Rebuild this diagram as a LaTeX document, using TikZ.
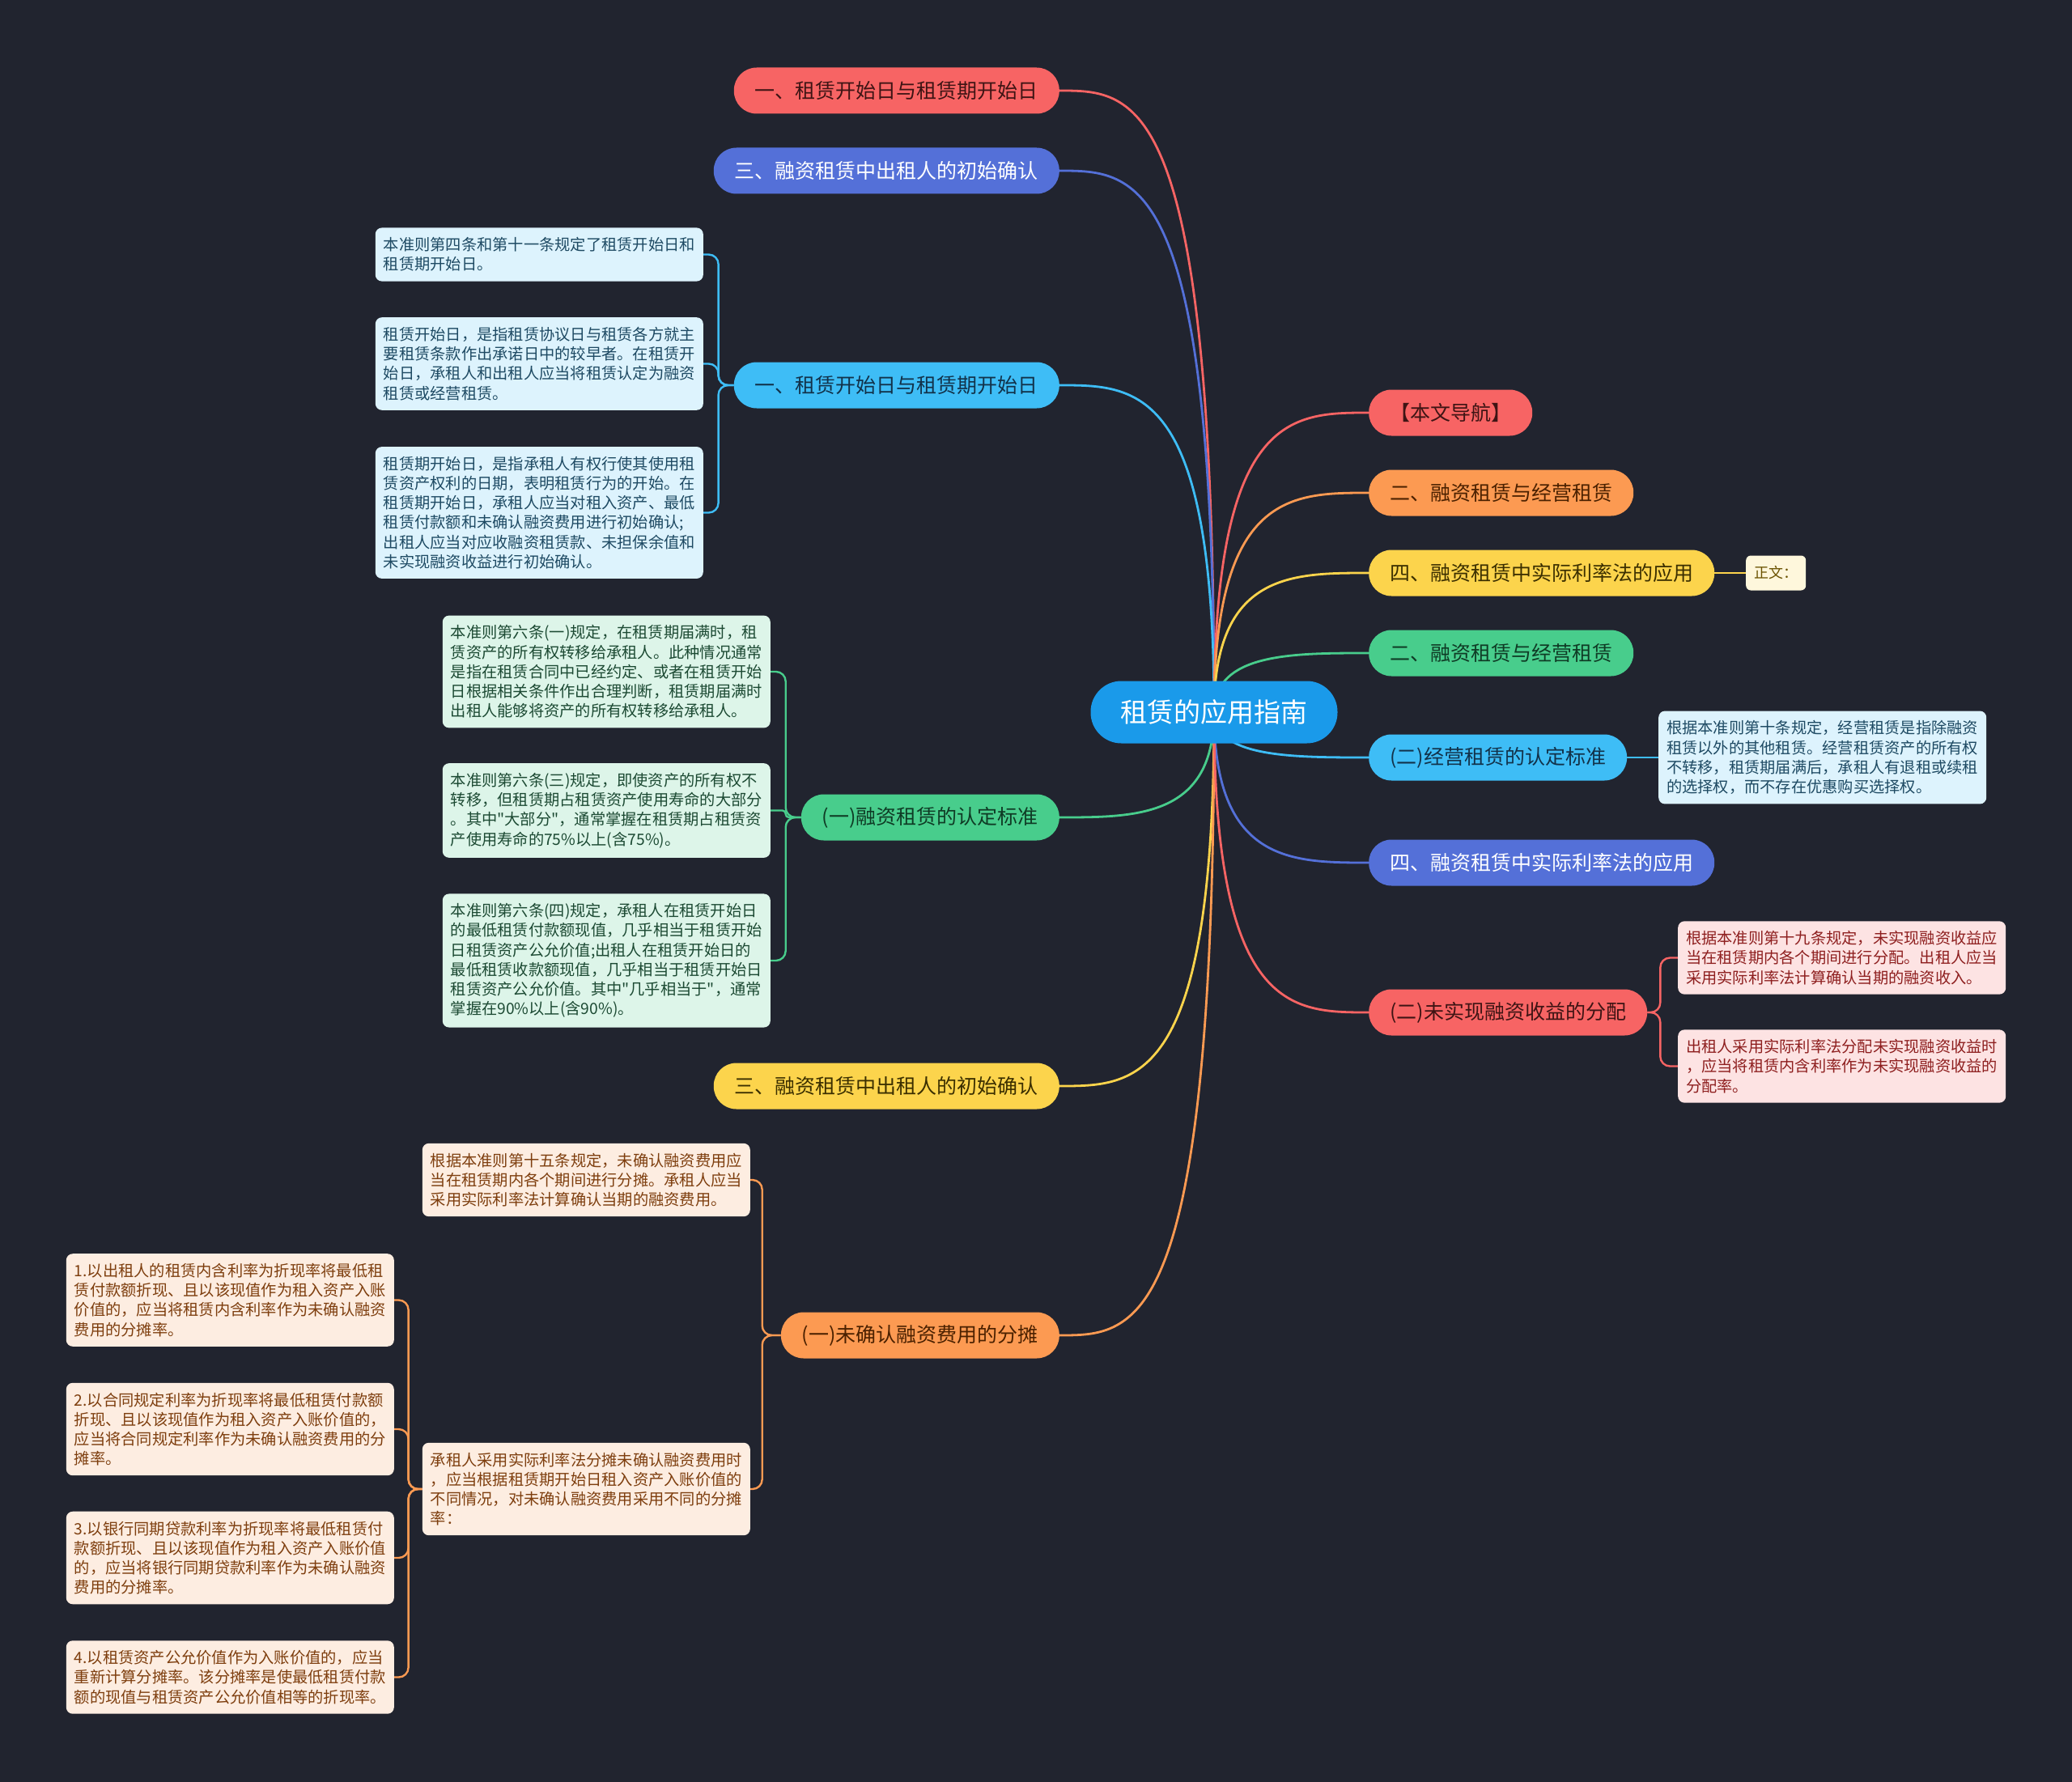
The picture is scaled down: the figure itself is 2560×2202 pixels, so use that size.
\documentclass[tikz,border=0pt]{standalone}
\usepackage{fontspec}
\setmainfont{Noto Sans CJK SC}[Ligatures=TeXOff]
\usetikzlibrary{backgrounds,calc}
\definecolor{bg}{HTML}{21242F}
\definecolor{cred}{HTML}{F76464}
\definecolor{cindigo}{HTML}{5470D8}
\definecolor{cblue}{HTML}{3EBDF6}
\definecolor{cgreen}{HTML}{48CD8C}
\definecolor{cyellow}{HTML}{FCD44C}
\definecolor{corange}{HTML}{FC9A52}
\definecolor{croot}{HTML}{1A9AEA}
\definecolor{tdred}{HTML}{3E1414}
\definecolor{tdblue}{HTML}{12324A}
\definecolor{tdgreen}{HTML}{0F3B25}
\definecolor{tdyellow}{HTML}{3B2F00}
\definecolor{tdorange}{HTML}{4B2100}
\definecolor{fblue}{HTML}{DDF3FD}
\definecolor{tblue}{HTML}{1E4A63}
\definecolor{fgreen}{HTML}{DDF5E9}
\definecolor{tgreen}{HTML}{1C4A33}
\definecolor{forange}{HTML}{FDEDE1}
\definecolor{torange}{HTML}{7E3E0E}
\definecolor{fred}{HTML}{FDE3E3}
\definecolor{tred}{HTML}{8E1F1F}
\definecolor{fyellow}{HTML}{FEF7DC}
\definecolor{tyellow}{HTML}{6A5200}
\begin{document}
\begin{tikzpicture}[x=1pt,y=-1pt,
  pill/.style={rounded corners=28pt, minimum height=57pt, inner xsep=26pt, inner ysep=0pt, font=\fontsize{25}{30}\selectfont},
  rootbox/.style={fill=croot, text=white, rounded corners=38pt, minimum height=77pt, inner xsep=37pt, inner ysep=0pt, font=\fontsize{33}{40}\selectfont},
  desc/.style={rounded corners=8pt, inner xsep=10pt, inner ysep=12pt, text width=385pt, align=left, font=\fontsize{19.25}{24.2}\selectfont},
  conn/.style={line width=2.8pt},
  sub/.style={line width=2.4pt, rounded corners=12pt},
  dblue/.style={desc, fill=fblue, text=tblue},
  dgreen/.style={desc, fill=fgreen, text=tgreen},
  dorange/.style={desc, fill=forange, text=torange},
  dred/.style={desc, fill=fred, text=tred}
]
\useasboundingbox (0,0) rectangle (2560,2202);

% root
\node[rootbox] (root) at (1500,880) {租赁的应用指南};

% left main branches
\node[pill, fill=cred, text=tdred, anchor=east] (L1) at (1309,112) {一、租赁开始日与租赁期开始日};
\node[pill, fill=cindigo, text=white, anchor=east] (L2) at (1309,211) {三、融资租赁中出租人的初始确认};
\node[pill, fill=cblue, text=tdblue, anchor=east] (L3) at (1309,476) {一、租赁开始日与租赁期开始日};
\node[pill, fill=cgreen, text=tdgreen, anchor=east] (L4) at (1309,1010) {(一)融资租赁的认定标准};
\node[pill, fill=cyellow, text=tdyellow, anchor=east] (L5) at (1309,1342) {三、融资租赁中出租人的初始确认};
\node[pill, fill=corange, text=tdorange, anchor=east] (L6) at (1309,1650) {(一)未确认融资费用的分摊};

% right main branches
\node[pill, fill=cred, text=tdred, anchor=west] (R1) at (1691,510) {【本文导航】};
\node[pill, fill=corange, text=tdorange, anchor=west] (R2) at (1691,609) {二、融资租赁与经营租赁};
\node[pill, fill=cyellow, text=tdyellow, anchor=west] (R3) at (1691,708) {四、融资租赁中实际利率法的应用};
\node[pill, fill=cgreen, text=tdgreen, anchor=west] (R4) at (1691,807) {二、融资租赁与经营租赁};
\node[pill, fill=cblue, text=tdblue, anchor=west] (R5) at (1691,936) {(二)经营租赁的认定标准};
\node[pill, fill=cindigo, text=white, anchor=west] (R6) at (1691,1066) {四、融资租赁中实际利率法的应用};
\node[pill, fill=cred, text=tdred, anchor=west] (R7) at (1691,1251) {(二)未实现融资收益的分配};

\node[fill=fyellow, text=tyellow, rounded corners=6pt, minimum height=43pt, inner xsep=10pt, inner ysep=0pt, font=\fontsize{18}{22}\selectfont, anchor=west] (ZW) at (2157,708) {正文：};

% blue descriptions
\node[dblue, anchor=east] (L3a) at (869,314.5) {本准则第四条和第十一条规定了租赁开始日和\\租赁期开始日。};
\node[dblue, anchor=east] (L3b) at (869,449.5) {租赁开始日，是指租赁协议日与租赁各方就主\\要租赁条款作出承诺日中的较早者。在租赁开\\始日，承租人和出租人应当将租赁认定为融资\\租赁或经营租赁。};
\node[dblue, anchor=east] (L3c) at (869,633.5) {租赁期开始日，是指承租人有权行使其使用租\\赁资产权利的日期，表明租赁行为的开始。在\\租赁期开始日，承租人应当对租入资产、最低\\租赁付款额和未确认融资费用进行初始确认;\\出租人应当对应收融资租赁款、未担保余值和\\未实现融资收益进行初始确认。};

% green descriptions
\node[dgreen, anchor=east] (L4a) at (952,830) {本准则第六条(一)规定，在租赁期届满时，租\\赁资产的所有权转移给承租人。此种情况通常\\是指在租赁合同中已经约定、或者在租赁开始\\日根据相关条件作出合理判断，租赁期届满时\\出租人能够将资产的所有权转移给承租人。};
\node[dgreen, anchor=east] (L4b) at (952,1001.5) {本准则第六条(三)规定，即使资产的所有权不\\转移，但租赁期占租赁资产使用寿命的大部分\\。其中"大部分"，通常掌握在租赁期占租赁资\\产使用寿命的75\%以上(含75\%)。};
\node[dgreen, anchor=east] (L4c) at (952,1187) {本准则第六条(四)规定，承租人在租赁开始日\\的最低租赁付款额现值，几乎相当于租赁开始\\日租赁资产公允价值;出租人在租赁开始日的\\最低租赁收款额现值，几乎相当于租赁开始日\\租赁资产公允价值。其中"几乎相当于"，通常\\掌握在90\%以上(含90\%)。};

% orange descriptions
\node[dorange, anchor=east] (L6a) at (927,1458) {根据本准则第十五条规定，未确认融资费用应\\当在租赁期内各个期间进行分摊。承租人应当\\采用实际利率法计算确认当期的融资费用。};
\node[dorange, anchor=east] (L6b) at (927,1840) {承租人采用实际利率法分摊未确认融资费用时\\，应当根据租赁期开始日租入资产入账价值的\\不同情况，对未确认融资费用采用不同的分摊\\率：};
\node[dorange, anchor=east] (C1) at (487,1606.5) {1.以出租人的租赁内含利率为折现率将最低租\\赁付款额折现、且以该现值作为租入资产入账\\价值的，应当将租赁内含利率作为未确认融资\\费用的分摊率。};
\node[dorange, anchor=east] (C2) at (487,1766) {2.以合同规定利率为折现率将最低租赁付款额\\折现、且以该现值作为租入资产入账价值的，\\应当将合同规定利率作为未确认融资费用的分\\摊率。};
\node[dorange, anchor=east] (C3) at (487,1925) {3.以银行同期贷款利率为折现率将最低租赁付\\款额折现、且以该现值作为租入资产入账价值\\的，应当将银行同期贷款利率作为未确认融资\\费用的分摊率。};
\node[dorange, anchor=east] (C4) at (487,2072.5) {4.以租赁资产公允价值作为入账价值的，应当\\重新计算分摊率。该分摊率是使最低租赁付款\\额的现值与租赁资产公允价值相等的折现率。};

% right descriptions
\node[dblue, anchor=west] (R5a) at (2049,936) {根据本准则第十条规定，经营租赁是指除融资\\租赁以外的其他租赁。经营租赁资产的所有权\\不转移，租赁期届满后，承租人有退租或续租\\的选择权，而不存在优惠购买选择权。};
\node[dred, anchor=west] (R7a) at (2073,1183.5) {根据本准则第十九条规定，未实现融资收益应\\当在租赁期内各个期间进行分配。出租人应当\\采用实际利率法计算确认当期的融资收入。};
\node[dred, anchor=west] (R7b) at (2073,1317.5) {出租人采用实际利率法分配未实现融资收益时\\，应当将租赁内含利率作为未实现融资收益的\\分配率。};

\begin{pgfonlayer}{background}
\fill[bg] (0,0) rectangle (2560,2202);
\foreach \n/\c in {L1/cred,L2/cindigo,L3/cblue,L4/cgreen,L5/cyellow,L6/corange}
  \draw[conn,\c] (root.center) .. controls (root.center |- \n.east) and ($(root.center |- \n.east)!0.5!(\n.east)$) .. (\n.east);
\foreach \n/\c in {R1/cred,R2/corange,R3/cyellow,R4/cgreen,R5/cblue,R6/cindigo,R7/cred}
  \draw[conn,\c] (root.center) .. controls (root.center |- \n.west) and ($(root.center |- \n.west)!0.5!(\n.west)$) .. (\n.west);
\foreach \k in {L3a,L3b,L3c}
  \draw[sub,cblue] (L3.west) -- ([xshift=-19pt]L3.west) |- (\k.east);
\foreach \k in {L4a,L4c}
  \draw[sub,cgreen] (L4.west) -- ([xshift=-19pt]L4.west) |- (\k.east);
\draw[sub,cgreen,rounded corners=4pt] (L4.west) -- ([xshift=-19pt]L4.west) |- (L4b.east);
\foreach \k in {L6a,L6b}
  \draw[sub,corange] (L6.west) -- ([xshift=-23pt]L6.west) |- (\k.east);
\foreach \k in {C1,C2,C3,C4}
  \draw[sub,corange] (L6b.west) -- ([xshift=-17pt]L6b.west) |- (\k.east);
\foreach \k in {R7a,R7b}
  \draw[sub,cred] (R7.east) -- ([xshift=16pt]R7.east) |- (\k.west);
\draw[sub,cblue] (R5.east) -- (R5a.west);
\draw[sub,cyellow] (R3.east) -- (ZW.west);
\end{pgfonlayer}
\end{tikzpicture}
\end{document}
